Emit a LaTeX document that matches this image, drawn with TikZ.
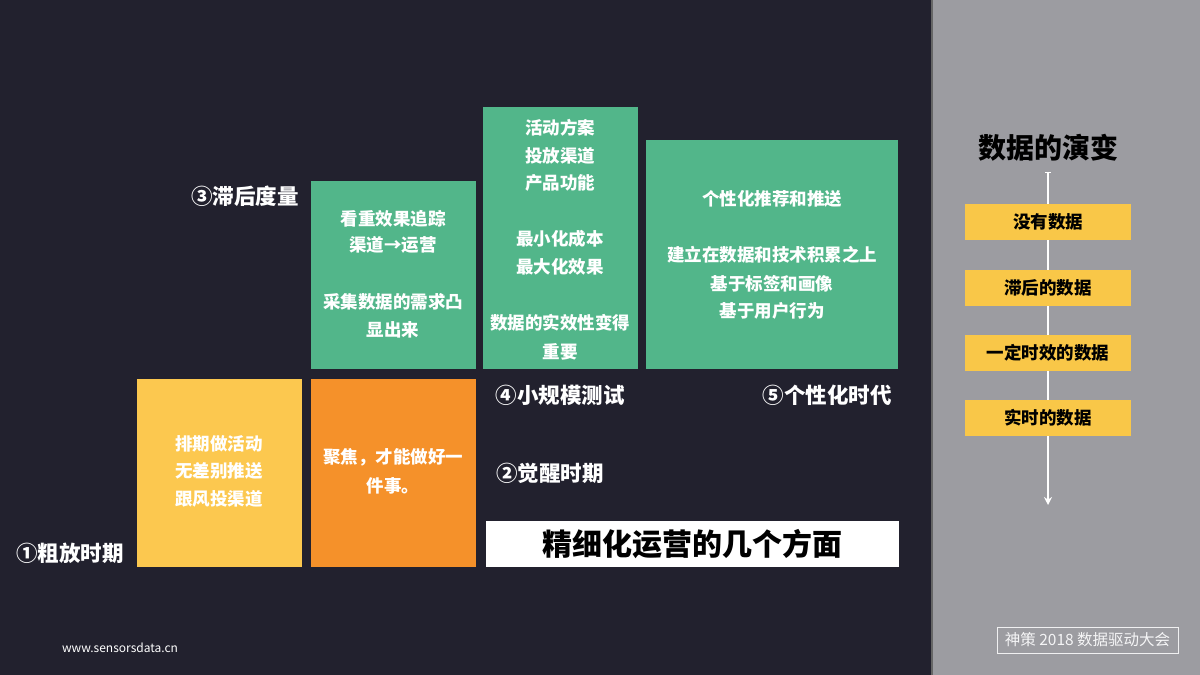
\documentclass[tikz,border=0pt]{standalone}
\usepackage{fontspec}
\setmainfont{Noto Sans CJK SC}
\usetikzlibrary{calc,arrows.meta}
\definecolor{bg}{HTML}{22212E}
\definecolor{panel}{HTML}{9C9CA1}
\definecolor{gr}{HTML}{52B68A}
\definecolor{ye}{HTML}{FCC84F}
\definecolor{ora}{HTML}{F5912A}
\definecolor{ye2}{HTML}{F9C748}
\begin{document}
\begin{tikzpicture}[x=1pt,y=-1pt,
  tx/.style={text=white,font=\fontsize{17.5}{17.5}\selectfont\bfseries,inner sep=0pt},
  lab/.style={text=white,font=\fontsize{21.5}{21.5}\selectfont\bfseries,inner sep=0pt},
  rb/.style={fill=ye2,minimum width=166pt,minimum height=36pt,inner sep=0pt,font=\fontsize{17.5}{17.5}\selectfont\bfseries}]
\fill[bg] (0,0) rectangle (1200,675);
\useasboundingbox (0,0) rectangle (1200,675);
\fill[panel] (932,0) rectangle (1200,675);
\draw[black!60,line width=1.5pt] (932,0) -- (932,675);
% boxes
\fill[ye] (137,379) rectangle (302,567);
\fill[ora] (311,379) rectangle (476,567);
\fill[gr] (311,181) rectangle (476,369);
\fill[gr] (483,107) rectangle (638,369);
\fill[gr] (646,140) rectangle (898,369);
\fill[white] (486,521) rectangle (899,567);
\node[inner sep=0pt,font=\fontsize{30}{30}\selectfont\bfseries] (title) at (692,544) {精细化运营的几个方面};
% texts
\node[tx] (y1) at (219,444) {排期做活动};
\node[tx] (y2) at (219,471) {无差别推送};
\node[tx] (y3) at (219,499) {跟风投渠道};
\node[tx] (o1) at (393,457) {聚焦，才能做好一};
\node[tx] (o2) at (393,486) {件事。};
\node[tx] (g11) at (393,219) {看重效果追踪};
\node[tx] (g12) at (393,245) {渠道→运营};
\node[tx] (g13) at (393,302) {采集数据的需求凸};
\node[tx] (g14) at (393,330) {显出来};
\node[tx] (g21) at (560,128) {活动方案};
\node[tx] (g22) at (560,156) {投放渠道};
\node[tx] (g23) at (560,183) {产品功能};
\node[tx] (g24) at (560,239) {最小化成本};
\node[tx] (g25) at (560,267) {最大化效果};
\node[tx] (g26) at (560,323) {数据的实效性变得};
\node[tx] (g27) at (560,352) {重要};
\node[tx] (g31) at (772,199) {个性化推荐和推送};
\node[tx] (g32) at (772,255) {建立在数据和技术积累之上};
\node[tx] (g33) at (772,284) {基于标签和画像};
\node[tx] (g34) at (772,311) {基于用户行为};
% labels
\node[lab] (l1) at (70,553) {①粗放时期};
\node[lab] (l3) at (245,196) {③滞后度量};
\node[lab] (l4) at (560,395) {④小规模测试};
\node[lab] (l5) at (827,395) {⑤个性化时代};
\node[lab] (l2) at (550,473) {②觉醒时期};
% right panel
\node[inner sep=0pt,font=\fontsize{28}{28}\selectfont\bfseries] (rt) at (1048,148) {数据的演变};
\coordinate (top) at (1048,172);
\coordinate (bot) at (1048,505);
\draw[white,line width=1pt] ($(top)+(-3,0)$) -- ($(top)+(3,0)$);
\draw[white,line width=1.2pt,-{Stealth[length=8pt,width=8pt]}] (top) -- (bot);
\node[rb] (r1) at (1048,222) {没有数据};
\node[rb] (r2) at (1048,288) {滞后的数据};
\node[rb] (r3) at (1048,353) {一定时效的数据};
\node[rb] (r4) at (1048,418) {实时的数据};
\node[text=white,inner sep=0pt,font=\fontsize{12}{12}\selectfont] (www) at (120,648) {www.sensorsdata.cn};
\node[draw=white!85!panel,line width=0.8pt,text=white!90!panel,minimum width=181pt,minimum height=26pt,inner sep=0pt,font=\fontsize{15.5}{15.5}\selectfont] (logo) at (1087.5,640) {神策 2018 数据驱动大会};
\end{tikzpicture}
\end{document}
